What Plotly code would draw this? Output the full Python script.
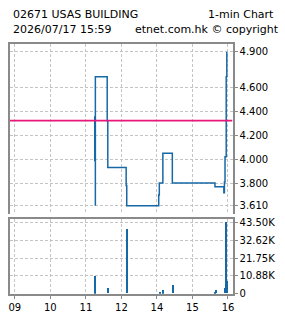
import plotly.graph_objects as go

# ---- data ----
price_times = ["11:15", "11:15", "11:16", "11:16", "11:36", "11:37", "13:08", "13:09",
               "14:03", "14:04", "14:10", "14:26", "15:38", "15:53", "15:54", "15:55",
               "15:57", "15:58"]
price_values = [4.36, 3.99, 3.61, 4.69, 4.32, 3.93, 3.78, 3.61,
                3.70, 3.80, 4.05, 3.80, 3.77, 3.72, 3.81, 4.02,
                4.69, 4.90]

prev_close = 4.323

vol_times = ["11:15", "11:16", "11:38", "13:10", "14:05", "14:10", "14:11", "14:28",
             "15:38", "15:40", "15:55", "15:57", "15:59"]
vol_values = [600, 10300, 3200, 39100, 1000, 2100, 700, 5000,
              800, 2100, 3300, 43500, 7300]

x_tick_hours = [9, 10, 11, 12, 14, 15, 16]
x_tick_text = ["09", "10", "11", "12", "14", "15", "16"]

price_ticks = [4.9, 4.6, 4.4, 4.2, 4.0, 3.8, 3.61]
price_tick_text = ["4.900", "4.600", "4.400", "4.200", "4.000", "3.800", "3.610"]

vol_ticks = [0, 10875, 21750, 32625, 43500]
vol_tick_text = ["0", "10.88K", "21.75K", "32.62K", "43.50K"]

title_left = "02671 USAS BUILDING"
title_right = "1-min Chart"
sub_left = "2026/07/17 15:59"
sub_right = "etnet.com.hk © copyright"


def to_axis(t):
    """Trading-time hour position (lunch break 12:00-13:00 removed)."""
    if isinstance(t, (int, float)):
        h, m = t, 0
    else:
        h, m = (int(v) for v in t.split(":"))
    pos = h + m / 60.0
    if h >= 13:
        pos -= 1
    return pos


px_ = [to_axis(t) for t in price_times]
vx_ = [to_axis(t) for t in vol_times]
tickpos = [to_axis(h) for h in x_tick_hours]

BLUE = "#1668a6"
PINK = "#e8177a"
GRAY = "#8a8a8a"
GRID = "#c4c4c4"
FONT = "DejaVu Sans"

W, H = 285, 318
xr = [8.861, 15.128]

fig = go.Figure()
fig.add_trace(go.Scatter(x=px_, y=price_values, mode="lines", line=dict(color=BLUE, width=1.5, shape="hv"),
                         xaxis="x", yaxis="y", hoverinfo="skip"))
fig.add_trace(go.Scatter(x=xr, y=[prev_close, prev_close], mode="lines", line=dict(color=PINK, width=1.6),
                         xaxis="x", yaxis="y", hoverinfo="skip"))
fig.add_trace(go.Bar(x=vx_, y=vol_values, width=0.035, marker=dict(color=BLUE, line=dict(width=0)),
                     xaxis="x2", yaxis="y2", hoverinfo="skip"))

dom_x = [9 / W, 234 / W]
common_x = dict(range=xr, tickvals=tickpos, showgrid=True, gridcolor=GRID, griddash="3px,2px",
                gridwidth=1, zeroline=False, linecolor=GRAY, linewidth=2)
fig.update_layout(
    width=W, height=H, margin=dict(l=0, r=0, t=0, b=0),
    paper_bgcolor="white", plot_bgcolor="white", showlegend=False,
    font=dict(family=FONT, size=10, color="black"),
    xaxis=dict(domain=dom_x, side="top", showline=True, showticklabels=False, ticks="",
               anchor="y", **common_x),
    yaxis=dict(domain=[1 - 216 / H, 1 - 42 / H], range=[3.545, 4.965], side="right",
               tickvals=price_ticks, ticktext=price_tick_text, ticks="outside", ticklen=3,
               tickcolor=GRAY, showline=True, mirror=True, linecolor=GRAY, linewidth=2,
               showgrid=True, gridcolor=GRID, griddash="3px,2px", zeroline=False, anchor="x"),
    xaxis2=dict(domain=dom_x, showline=True, mirror=True, ticktext=x_tick_text, ticks="outside",
                ticklen=3, tickcolor=GRAY, anchor="y2", **common_x),
    yaxis2=dict(domain=[1 - 298.3 / H, 1 - 222 / H], range=[0, 45280], side="right",
                tickvals=vol_ticks, ticktext=vol_tick_text, ticks="outside", ticklen=3,
                tickcolor=GRAY, showline=True, mirror=True, linecolor=GRAY, linewidth=2,
                showgrid=True, gridcolor=GRID, griddash="3px,2px", zeroline=False, anchor="x2"),
    bargap=0,
)

ann_font = dict(family=FONT, size=11, color="black")
fig.add_annotation(text=title_left, x=10 / W, y=1 - 12 / H, xref="paper", yref="paper",
                   xanchor="left", yanchor="middle", showarrow=False, font=ann_font)
fig.add_annotation(text=title_right, x=278 / W, y=1 - 12 / H, xref="paper", yref="paper",
                   xanchor="right", yanchor="middle", showarrow=False, font=ann_font)
fig.add_annotation(text=sub_left, x=10 / W, y=1 - 27 / H, xref="paper", yref="paper",
                   xanchor="left", yanchor="middle", showarrow=False, font=ann_font)
fig.add_annotation(text=sub_right, x=283 / W, y=1 - 27 / H, xref="paper", yref="paper",
                   xanchor="right", yanchor="middle", showarrow=False, font=ann_font)

fig.write_html("out.html")
